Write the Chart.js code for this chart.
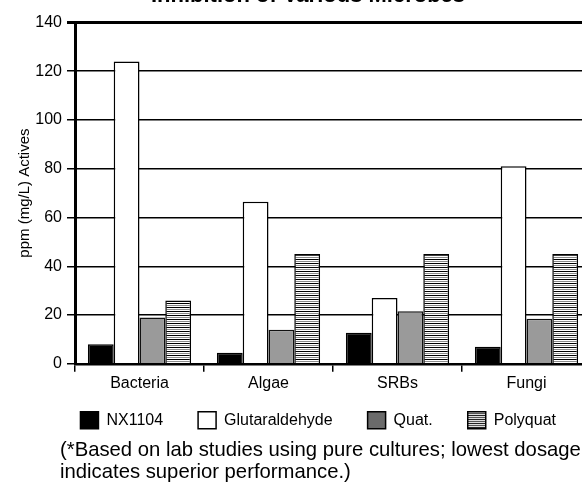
<!DOCTYPE html>
<html>
<head>
<meta charset="utf-8">
<script src="https://cdn.jsdelivr.net/npm/chart.js@4.4.1/dist/chart.umd.min.js"></script>
<style>
  html, body { margin: 0; padding: 0; background: #fff; overflow: hidden; }
  #wrap { position: absolute; left: 0; top: -17px; width: 620px; height: 502px; }
  #note {
    position: absolute; left: 60px; top: 438px;
    font: 20.3px "Liberation Sans", Arial, sans-serif; line-height: 22px; color: #000;
    white-space: nowrap;
  }
</style>
</head>
<body>
<div id="wrap"><canvas id="microbeChart"></canvas></div>
<div id="note">(*Based on lab studies using pure cultures; lowest dosage<br>indicates superior performance.)</div>
<script>
const categories = ["Bacteria", "Algae", "SRBs", "Fungi"];
const nx1104 = [8, 4.5, 12.7, 7];
const glutaraldehyde = [124, 66.5, 27, 81];
const quat = [19, 14, 21.5, 18.5];
const polyquat = [26, 45, 45, 45];
const yTicks = [0, 20, 40, 60, 80, 100, 120, 140];

const FONT = "'Liberation Sans', Arial, sans-serif";

// striped fill for the Polyquat bars
function makeStripes(rows) {
  const c = document.createElement("canvas");
  c.width = 4;
  c.height = rows.length;
  const g = c.getContext("2d");
  rows.forEach((col, i) => {
    g.fillStyle = col;
    g.fillRect(0, i, 4, 1);
  });
  return g.createPattern(c, "repeat");
}
const barStripes = makeStripes(["#000", "#fff", "#8a8a8a", "#fff"]);
const legendStripes = makeStripes(["#222", "#ddd", "#555", "#ddd"]);

// the legend sits tight under the category labels, closer than its padding allows
const legendLift = {
  id: "legendLift",
  afterLayout(chart) {
    const lg = chart.legend;
    const dy = lg.top - (chart.chartArea.bottom + 13);
    lg.top -= dy;
    lg.bottom -= dy;
  }
};

const ctx = document.getElementById("microbeChart");

new Chart(ctx, {
  type: "bar",
  data: {
    labels: categories,
    datasets: [
      { label: "NX1104", data: nx1104, backgroundColor: "#000", borderColor: "#000", borderWidth: 1.5 },
      { label: "Glutaraldehyde", data: glutaraldehyde, backgroundColor: "#fff", borderColor: "#000", borderWidth: 1.5 },
      { label: "Quat.", data: quat, backgroundColor: "#9a9a9a", borderColor: "#111", borderWidth: 1.5 },
      { label: "Polyquat", data: polyquat, backgroundColor: barStripes, borderColor: "#000", borderWidth: 1.5 }
    ]
  },
  plugins: [legendLift],
  options: {
    responsive: true,
    maintainAspectRatio: false,
    animation: false,
    categoryPercentage: 0.8,
    barPercentage: 1,
    layout: { padding: { left: 25, right: 29, top: 0, bottom: 28 } },
    plugins: {
      title: {
        display: true,
        text: "Inhibition of Various Microbes",
        color: "#000",
        font: { family: FONT, size: 22, weight: "bold" },
        padding: { top: 0, bottom: 13 }
      },
      legend: {
        position: "bottom",
        align: "end",
        labels: {
          color: "#000",
          font: { family: FONT, size: 16 },
          boxWidth: 18,
          boxHeight: 17,
          padding: 35,
          generateLabels(chart) {
            const items = Chart.defaults.plugins.legend.labels.generateLabels(chart);
            items.forEach(it => {
              it.lineWidth = 1.5;
              it.strokeStyle = "#000";
              if (it.text === "Quat.") it.fillStyle = "#6b6b6b";
              if (it.text === "Polyquat") it.fillStyle = legendStripes;
            });
            return items;
          }
        }
      },
      tooltip: { enabled: false }
    },
    scales: {
      x: {
        grid: { offset: true, drawOnChartArea: false, color: "#000", lineWidth: 1.5, tickLength: 8 },
        border: { color: "#000", width: 2.5 },
        ticks: { color: "#000", font: { family: FONT, size: 16 }, padding: 2 }
      },
      y: {
        min: 0,
        max: 140,
        afterBuildTicks(scale) { scale.ticks = yTicks.map(v => ({ value: v })); },
        grid: {
          color: "#000",
          tickLength: 8,
          lineWidth: c => (c.tick && c.tick.value === 140 ? 3 : 1.5)
        },
        border: { color: "#000", width: 3 },
        ticks: { color: "#000", font: { family: FONT, size: 16 }, padding: 5 },
        title: {
          display: true,
          text: "ppm (mg/L) Actives",
          color: "#000",
          font: { family: FONT, size: 15 },
          padding: { top: -9.5, bottom: 0 }
        },
        afterFit(scale) { scale.width = 50; }
      }
    }
  }
});
</script>
</body>
</html>
